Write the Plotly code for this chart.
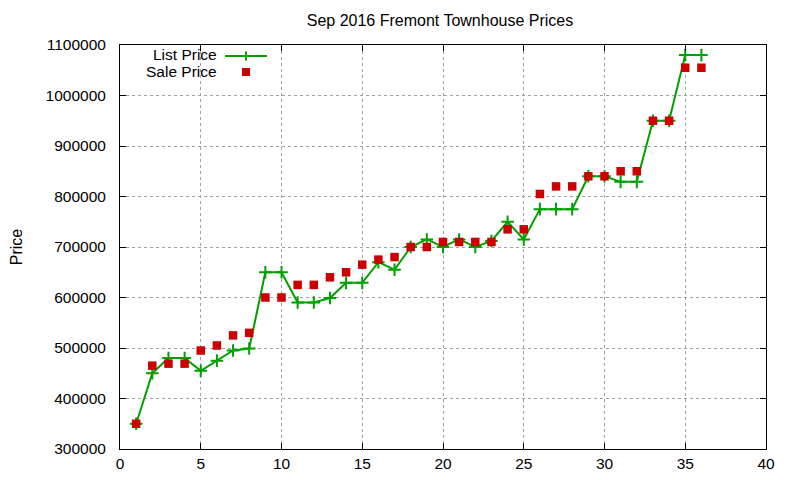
import plotly.graph_objects as go

house = list(range(1, 37))
list_price = [350000, 450000, 480000, 480000, 455000, 475000, 495000, 499000, 650000, 650000,
              590000, 590000, 599000, 629000, 629000, 670000, 655000, 700000, 715000, 700000,
              715000, 700000, 712000, 750000, 715000, 775000, 775000, 775000, 840000, 840000,
              829000, 829000, 950000, 950000, 1080000, 1080000]
sale_price = [350000, 465000, 469000, 469000, 495000, 505000, 525000, 530000, 600000, 600000,
              625000, 625000, 640000, 650000, 665000, 675000, 680000, 700000, 700000, 710000,
              710000, 710000, 710000, 735000, 735000, 805000, 820000, 820000, 840000, 840000,
              850000, 850000, 950000, 950000, 1055000, 1055000]

GREEN = "#00a000"
RED = "#cc0000"
FONT = "Liberation Sans, Arial, sans-serif"

fig = go.Figure()
fig.add_trace(go.Scatter(
    x=house, y=list_price, mode="lines+markers", name="List Price",
    line=dict(color=GREEN, width=2),
    marker=dict(symbol="cross-thin", size=9, line=dict(color=GREEN, width=2)),
    showlegend=False,
))
fig.add_trace(go.Scatter(
    x=house, y=sale_price, mode="markers", name="Sale Price",
    marker=dict(symbol="square", size=8.5, color=RED),
    showlegend=False,
))

W, H = 800, 480
OFF = 8  # page body margin in the browser
# desired plot box in screen pixels: x 120..766, y 45..449
L, R, T, B = 120 - OFF, W - (766 - OFF), 45 - OFF, H - (449 - OFF)

def px(xp):
    return (xp - OFF - L) / (W - L - R)

def py(yp):
    return 1 - (yp - OFF - T) / (H - T - B)

# custom gnuplot-style key
fig.add_annotation(x=px(219), y=py(54), xref="paper", yref="paper", text="List Price",
                   showarrow=False, xanchor="right", yanchor="middle",
                   font=dict(family=FONT, size=15.5, color="#000"))
fig.add_annotation(x=px(219), y=py(71), xref="paper", yref="paper", text="Sale Price",
                   showarrow=False, xanchor="right", yanchor="middle",
                   font=dict(family=FONT, size=15.5, color="#000"))
fig.add_shape(type="line", xref="paper", yref="paper", x0=px(225), x1=px(267), y0=py(56), y1=py(56),
              line=dict(color=GREEN, width=2))
fig.add_shape(type="line", xref="paper", yref="paper", x0=px(246), x1=px(246), y0=py(51.5), y1=py(60.5),
              line=dict(color=GREEN, width=2))
fig.add_shape(type="rect", xref="paper", yref="paper", x0=px(242), x1=px(250), y0=py(68), y1=py(76),
              line=dict(width=0), fillcolor=RED)

axis_common = dict(
    showline=True, linecolor="black", linewidth=1, mirror="ticks",
    ticks="inside", ticklen=6, tickcolor="black",
    showgrid=True, gridcolor="#a0a0a0", griddash="dot", gridwidth=1,
    zeroline=False, automargin=False,
    tickfont=dict(family=FONT, size=15.5, color="#000"),
)

fig.update_layout(
    width=W, height=H,
    margin=dict(l=L, r=R, t=T, b=B),
    paper_bgcolor="white", plot_bgcolor="white",
    title=dict(text="Sep 2016 Fremont Townhouse Prices", x=px(440), xanchor="center",
               xref="paper", y=1 - (20 - OFF) / H, yanchor="middle",
               font=dict(family=FONT, size=16, color="#000")),
    xaxis=dict(range=[0, 40], dtick=5, tick0=0, ticklabelstandoff=0, **axis_common),
    yaxis=dict(range=[300000, 1100000], dtick=100000, tick0=300000, tickformat="d",
               ticklabelstandoff=10,
               title=dict(text="Price", font=dict(family=FONT, size=16, color="#000"), standoff=26),
               **axis_common),
)

fig.write_html("out.html")
